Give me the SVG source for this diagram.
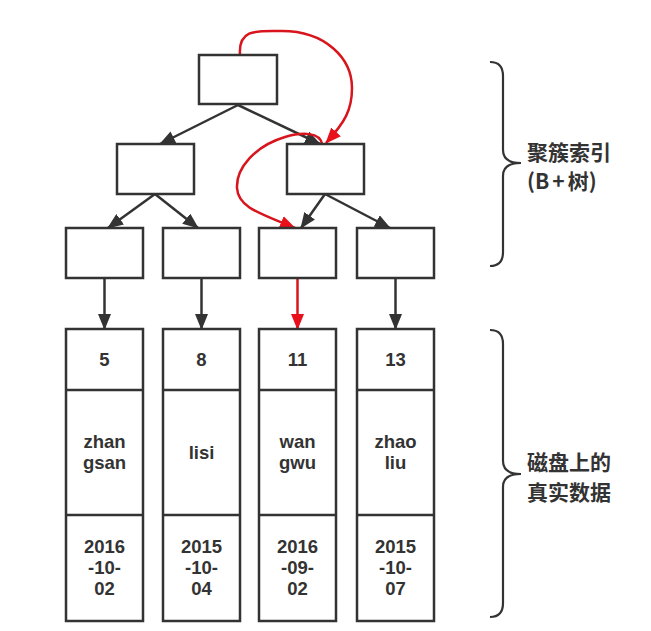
<svg xmlns="http://www.w3.org/2000/svg" width="651" height="631" viewBox="0 0 651 631">
<style>
.box{fill:#fff;stroke:#333;stroke-width:2.5}
.div{stroke:#333;stroke-width:2.5}
.edge{fill:none;stroke:#333;stroke-width:2.5}
.red{fill:none;stroke:#d8141c;stroke-width:2.5}
.t{font-family:"Liberation Sans",Arial,sans-serif;font-weight:bold;font-size:18.5px;fill:#333;text-anchor:middle}
.cn{font-family:"Noto Sans CJK SC","Noto Sans",sans-serif;font-weight:bold;font-size:21px;fill:#333}
.brace{fill:none;stroke:#333;stroke-width:2.2}
</style>
<defs>
<marker id="ab" viewBox="0 0 16 13" refX="15" refY="6.5" markerWidth="16" markerHeight="13" markerUnits="userSpaceOnUse" orient="auto">
<path d="M0,0 L16,6.5 L0,13 z" fill="#333"/>
</marker>
<marker id="ar" viewBox="0 0 16 13" refX="15" refY="6.5" markerWidth="16" markerHeight="13" markerUnits="userSpaceOnUse" orient="auto">
<path d="M0,0 L16,6.5 L0,13 z" fill="#e8101a"/>
</marker>
</defs>
<rect width="651" height="631" fill="#fff"/>

<g id="connectors">
<path class="edge" d="M238,105 L160,144" marker-end="url(#ab)"/>
<path class="edge" d="M238,105 L320,144" marker-end="url(#ab)"/>
<path class="edge" d="M155,194 L108,228" marker-end="url(#ab)"/>
<path class="edge" d="M155,194 L198,228" marker-end="url(#ab)"/>
<path class="edge" d="M325,194 L301,228" marker-end="url(#ab)"/>
<path class="edge" d="M325,194 L390,228" marker-end="url(#ab)"/>
<path class="edge" d="M104.5,278 L104.5,329" marker-end="url(#ab)"/>
<path class="edge" d="M201.5,278 L201.5,329" marker-end="url(#ab)"/>
<path class="edge" d="M395.5,278 L395.5,329" marker-end="url(#ab)"/>
<path class="red" d="M297.5,278 L297.5,329" marker-end="url(#ar)"/>
<path class="red" d="M240,55 C238,28 258,31 282,31 C325,31 352,58 352,88 C352,110 345,122 326,143" marker-end="url(#ar)"/>
<path class="red" d="M322,144 C320,132 302,132 285,137 C255,146 236,168 237,188 C238,208 262,214 295,228" marker-end="url(#ar)"/>
</g>

<g id="root"><rect class="box" x="199" y="55" width="78" height="49"/></g>
<g id="inner-left"><rect class="box" x="117" y="144" width="77" height="50"/></g>
<g id="inner-right"><rect class="box" x="287" y="144" width="77" height="50"/></g>
<g id="leaf-1"><rect class="box" x="66" y="228" width="77" height="50"/></g>
<g id="leaf-2"><rect class="box" x="163" y="228" width="77" height="50"/></g>
<g id="leaf-3"><rect class="box" x="259" y="228" width="77" height="50"/></g>
<g id="leaf-4"><rect class="box" x="357" y="228" width="77" height="50"/></g>

<g id="row-5">
<rect class="box" x="66" y="329" width="77" height="292"/>
<line class="div" x1="66" y1="390" x2="143" y2="390"/>
<line class="div" x1="66" y1="515" x2="143" y2="515"/>
<text class="t" x="104.5" y="366">5</text>
<text class="t" x="104.5" y="448">zhan<tspan x="104.5" dy="21">gsan</tspan></text>
<text class="t" x="104.5" y="553">2016<tspan x="104.5" dy="21">-10-</tspan><tspan x="104.5" dy="21">02</tspan></text>
</g>
<g id="row-8">
<rect class="box" x="163" y="329" width="77" height="292"/>
<line class="div" x1="163" y1="390" x2="240" y2="390"/>
<line class="div" x1="163" y1="515" x2="240" y2="515"/>
<text class="t" x="201.5" y="366">8</text>
<text class="t" x="201.5" y="459">lisi</text>
<text class="t" x="201.5" y="553">2015<tspan x="201.5" dy="21">-10-</tspan><tspan x="201.5" dy="21">04</tspan></text>
</g>
<g id="row-11">
<rect class="box" x="259" y="329" width="77" height="292"/>
<line class="div" x1="259" y1="390" x2="336" y2="390"/>
<line class="div" x1="259" y1="515" x2="336" y2="515"/>
<text class="t" x="297.5" y="366">11</text>
<text class="t" x="297.5" y="448">wan<tspan x="297.5" dy="21">gwu</tspan></text>
<text class="t" x="297.5" y="553">2016<tspan x="297.5" dy="21">-09-</tspan><tspan x="297.5" dy="21">02</tspan></text>
</g>
<g id="row-13">
<rect class="box" x="357" y="329" width="77" height="292"/>
<line class="div" x1="357" y1="390" x2="434" y2="390"/>
<line class="div" x1="357" y1="515" x2="434" y2="515"/>
<text class="t" x="395.5" y="366">13</text>
<text class="t" x="395.5" y="448">zhao<tspan x="395.5" dy="21">liu</tspan></text>
<text class="t" x="395.5" y="553">2015<tspan x="395.5" dy="21">-10-</tspan><tspan x="395.5" dy="21">07</tspan></text>
</g>

<g id="brace-index">
<path class="brace" d="M490,62 Q503,62 503,76 L503,150 Q503,163 521,163 Q503,163 503,176 L503,252 Q503,266 490,266"/>
<text class="cn" x="527" y="160">聚簇索引<tspan x="527" y="189">(B<tspan dx="3">+</tspan><tspan dx="3">树)</tspan></tspan></text>
</g>
<g id="brace-data">
<path class="brace" d="M490,330 Q503,330 503,344 L503,461 Q503,474 521,474 Q503,474 503,487 L503,603 Q503,617 490,617"/>
<text class="cn" x="527" y="470">磁盘上的<tspan x="527" y="500">真实数据</tspan></text>
</g>
</svg>
